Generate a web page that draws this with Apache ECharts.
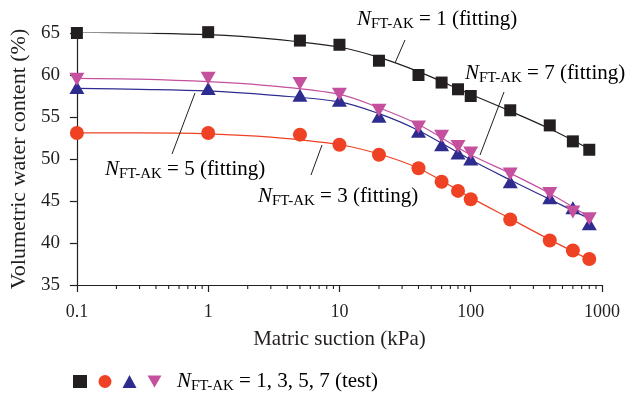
<!DOCTYPE html>
<html>
<head>
<meta charset="utf-8">
<script src="https://cdn.jsdelivr.net/npm/echarts@6/dist/echarts.min.js"></script>
<style>
html,body{margin:0;padding:0;background:#fff;}
#chart{width:627px;height:398px;}
</style>
</head>
<body>
<div id="chart"></div>
<script>
// ---- Data ----
const xTest = [0.1, 1, 5, 10, 20, 40, 60, 80, 100, 200, 400, 600, 800];
const testN1 = [65.0, 65.1, 64.1, 63.6, 61.7, 60.0, 59.1, 58.3, 57.5, 55.8, 54.0, 52.1, 51.1];
const testN3 = [53.1, 53.1, 52.9, 51.7, 50.5, 48.9, 47.3, 46.2, 45.2, 42.8, 40.3, 39.1, 38.1];
const testN5 = [58.5, 58.4, 57.6, 57.0, 55.1, 53.3, 51.7, 50.7, 50.0, 47.3, 45.4, 44.2, 42.3];
const testN7 = [59.5, 59.6, 59.0, 57.7, 55.8, 53.8, 52.7, 51.5, 50.7, 48.2, 45.9, 43.7, 42.9];

const xFit = [0.1, 0.3, 1, 3, 10, 20, 40, 100, 200, 400, 800];
const fitN1 = [65.1, 65.0, 64.8, 64.3, 63.3, 62.1, 60.4, 57.7, 55.7, 53.6, 51.2];
const fitN3 = [53.1, 53.1, 53.0, 52.6, 51.7, 50.6, 48.9, 45.4, 42.9, 40.4, 38.0];
const fitN5 = [58.4, 58.3, 58.1, 57.6, 56.8, 55.4, 53.4, 49.9, 47.5, 45.2, 42.9];
const fitN7 = [59.6, 59.5, 59.2, 58.7, 57.7, 56.1, 54.1, 50.5, 48.3, 45.9, 43.1];

const xTickLabels = ['0.1', '1', '10', '100', '1000'];
const yTicks = [35, 40, 45, 50, 55, 60, 65];
const minorTicks = [0.2,0.3,0.4,0.5,0.6,0.7,0.8,0.9, 2,3,4,5,6,7,8,9, 20,30,40,50,60,70,80,90, 200,300,400,500,600,700,800,900];

// ---- Styling ----
const FONT = "'Liberation Serif', 'Times New Roman', serif";
const INK = '#231f20';
const C1 = '#231f20', C3 = '#ef4123', C5 = '#2e2d8f', C7 = '#c4509e';
const DOWN_TRI = 'path://M0,0L20,0L10,17Z';

const pair = (xs, ys) => xs.map((x, i) => [x, ys[i]]);

function fitLine(name, ys, color) {
  return {
    name, type: 'line', data: pair(xFit, ys), smooth: 0.35, showSymbol: false,
    lineStyle: { color, width: 1.2 }, itemStyle: { color }, silent: true, z: 2
  };
}
function testScatter(name, ys, color, symbol, size) {
  return {
    name, type: 'scatter', data: pair(xTest, ys), symbol, symbolSize: size,
    itemStyle: { color, opacity: 1 }, clip: false, z: 3, silent: true
  };
}

const rich = {
  n: { fontFamily: FONT, fontSize: 21, fontStyle: 'italic', color: INK, lineHeight: 24 },
  s: { fontFamily: FONT, fontSize: 15, color: INK, lineHeight: 15, verticalAlign: 'bottom' },
  t: { fontFamily: FONT, fontSize: 21, color: INK, lineHeight: 24 }
};
function label(x, y, rest) {
  return {
    type: 'text', left: x, top: y - 9, silent: true, z: 10,
    style: { text: '{n|N}{s|FT-AK}{t| = ' + rest + '}', rich }
  };
}
function leader(x1, y1, x2, y2) {
  return { type: 'line', silent: true, z: 10,
    shape: { x1, y1, x2, y2 }, style: { stroke: INK, lineWidth: 1 } };
}

const chart = echarts.init(document.getElementById('chart'), null, { renderer: 'canvas' });
chart.setOption({
  animation: false,
  backgroundColor: '#fff',
  grid: { left: 75, right: 25, top: 33, bottom: 113, containLabel: false },
  xAxis: {
    type: 'log', logBase: 10, min: 0.1, max: 1000,
    name: 'Matric suction (kPa)', nameLocation: 'middle', nameGap: 44,
    nameTextStyle: { fontFamily: FONT, fontSize: 21, color: INK },
    axisLine: { lineStyle: { color: INK, width: 1.2 } },
    axisTick: { show: true, length: 7, lineStyle: { color: INK, width: 1.2 } },
    axisLabel: { fontFamily: FONT, fontSize: 18, color: INK, margin: 18,
      formatter: v => { const s = xTickLabels.find(t => Math.abs(parseFloat(t) - v) < 1e-6 * Math.max(1, v)); return s || ''; } },
    splitLine: { show: false }, minorTick: { show: false }
  },
  yAxis: {
    type: 'value', min: 35, max: 65, interval: 5,
    name: 'Volumetric water content (%)', nameLocation: 'middle', nameGap: 46,
    nameTextStyle: { fontFamily: FONT, fontSize: 22, color: INK },
    axisLine: { show: true, lineStyle: { color: INK, width: 1.2 } },
    axisTick: { show: true, length: 7, lineStyle: { color: INK, width: 1.2 } },
    axisLabel: { fontFamily: FONT, fontSize: 19, color: INK, margin: 17,
      formatter: v => yTicks.includes(v) ? String(v) : '' },
    splitLine: { show: false }
  },
  legend: {
    data: ['N1 test', 'N3 test', 'N5 test', 'N7 test'],
    left: 68, top: 370, itemWidth: 14, itemHeight: 13, itemGap: 11,
    formatter: () => '', selectedMode: false,
    textStyle: { fontSize: 1 }
  },
  series: [
    fitLine('N1 fit', fitN1, C1),
    fitLine('N3 fit', fitN3, C3),
    fitLine('N5 fit', fitN5, C5),
    fitLine('N7 fit', fitN7, C7),
    testScatter('N1 test', testN1, C1, 'rect', 12),
    testScatter('N3 test', testN3, C3, 'circle', 14),
    testScatter('N5 test', testN5, C5, 'triangle', [15, 13]),
    testScatter('N7 test', testN7, C7, DOWN_TRI, [15, 13]),
    {
      name: 'minor', type: 'custom', silent: true, clip: false, z: 5,
      data: minorTicks.map(v => [v, 35]),
      renderItem: (params, api) => {
        const p = api.coord([api.value(0), 35]);
        return { type: 'line', shape: { x1: p[0], y1: p[1], x2: p[0], y2: p[1] + 4 },
          style: { stroke: INK, lineWidth: 1.1 } };
      }
    }
  ],
  graphic: [
    label(357, 18, '1 (fitting)'),
    leader(405, 40, 395, 63),
    label(465, 72, '7 (fitting)'),
    leader(504, 92, 480, 155),
    label(105, 168, '5 (fitting)'),
    leader(172, 154, 195, 93),
    label(258, 195, '3 (fitting)'),
    leader(311, 175, 322, 145),
    label(177, 380, '1, 3, 5, 7 (test)')
  ]
});
</script>
</body>
</html>
